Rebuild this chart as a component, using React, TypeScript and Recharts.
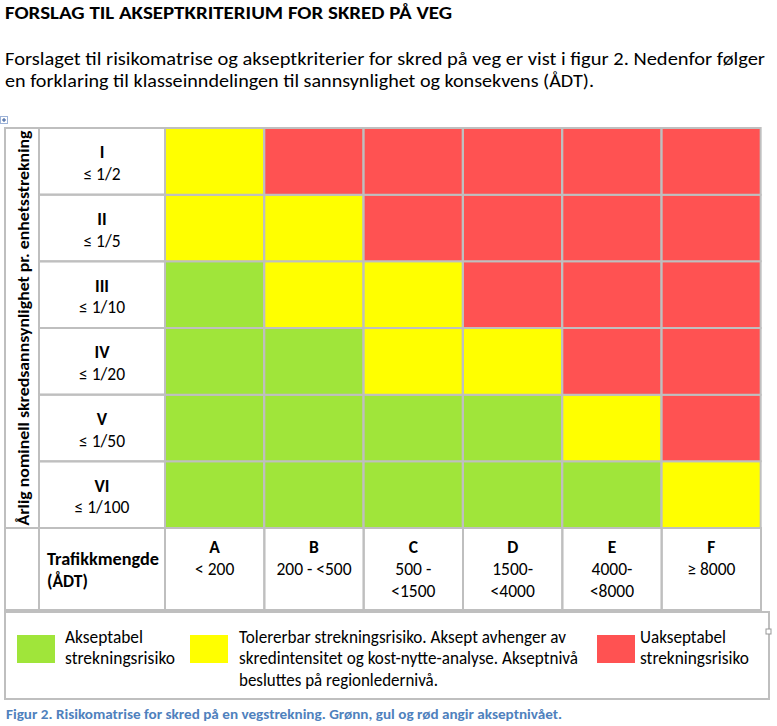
import React from 'react';
import { BarChart, Bar, Cell, XAxis, YAxis } from 'recharts';

// columns = traffic classes (ÅDT), rows = annual nominal probability classes
const trafficClasses = ['A', 'B', 'C', 'D', 'E', 'F'];
const trafficRanges = [['< 200'], ['200 - <500'], ['500 -', '<1500'], ['1500-', '<4000'], ['4000-', '<8000'], ['≥ 8000']];
const probClasses = ['I', 'II', 'III', 'IV', 'V', 'VI'];
const probLimits = ['≤ 1/2', '≤ 1/5', '≤ 1/10', '≤ 1/20', '≤ 1/50', '≤ 1/100'];

// acceptance level per cell, columns A..F (G = akseptabel, Y = tolererbar, R = uakseptabel)
const rowI = ['Y', 'R', 'R', 'R', 'R', 'R'];
const rowII = ['Y', 'Y', 'R', 'R', 'R', 'R'];
const rowIII = ['G', 'Y', 'Y', 'R', 'R', 'R'];
const rowIV = ['G', 'G', 'Y', 'Y', 'R', 'R'];
const rowV = ['G', 'G', 'G', 'G', 'Y', 'R'];
const rowVI = ['G', 'G', 'G', 'G', 'G', 'Y'];
const riskMatrix = [rowI, rowII, rowIII, rowIV, rowV, rowVI];

const levelColors: Record<string, string> = { G: '#A0E53A', Y: '#FFFF00', R: '#FF5252' };

const FONT = 'Carlito, Calibri, Lato, sans-serif';
const GRID = '#BFBFBF';
const W = 777;
const H = 726;
const TOP = 128;
const PLOT_LEFT = 165;
const PLOT_RIGHT = 761;
const PLOT_BOTTOM = 528;
const TABLE_BOTTOM = 610;
const LABEL_COL = 39;
const CELL_FONT = 17.5;

// every cell is one unit tall, stacked per column
const tableData = trafficClasses.map((c) => {
    const d: Record<string, string | number> = { col: c };
    probClasses.forEach((r) => {
        d[r] = 1;
    });
    return d;
});

const rowHeight = (PLOT_BOTTOM - TOP) / probClasses.length;
const colWidth = (PLOT_RIGHT - PLOT_LEFT) / trafficClasses.length;

const RowTick = (props: any) => {
    const { y, payload } = props;
    const i = Math.round(probClasses.length - 0.5 - payload.value);
    const cx = (LABEL_COL + PLOT_LEFT) / 2;
    return (
        <g>
            <rect x={LABEL_COL} y={y - rowHeight / 2} width={PLOT_LEFT - LABEL_COL} height={rowHeight} fill="none" stroke={GRID} strokeWidth={2} />
            <text x={cx} y={y - 3} textAnchor="middle" fontFamily={FONT} fontSize={CELL_FONT} fontWeight="bold" fill="#000">
                {probClasses[i]}
            </text>
            <text x={cx} y={y + 18.5} textAnchor="middle" fontFamily={FONT} fontSize={CELL_FONT} fill="#000">
                {probLimits[i]}
            </text>
        </g>
    );
};

const ColTick = (props: any) => {
    const { x, payload } = props;
    const i = trafficClasses.indexOf(payload.value);
    const lines = trafficRanges[i] || [];
    return (
        <g>
            <rect x={x - colWidth / 2} y={PLOT_BOTTOM} width={colWidth} height={TABLE_BOTTOM - PLOT_BOTTOM} fill="none" stroke={GRID} strokeWidth={2} />
            <text x={x} y={PLOT_BOTTOM + 25} textAnchor="middle" fontFamily={FONT} fontSize={CELL_FONT} fontWeight="bold" fill="#000">
                {payload.value}
            </text>
            {lines.map((l, k) => (
                <text key={k} x={x} y={PLOT_BOTTOM + 47 + k * 22} textAnchor="middle" fontFamily={FONT} fontSize={CELL_FONT} fill="#000">
                    {l}
                </text>
            ))}
        </g>
    );
};

const legendItems = [
    { level: 'G', sx: 17, tx: 65, lines: [['Akseptabel', 78], ['strekningsrisiko', 110]] },
    {
        level: 'Y',
        sx: 190,
        tx: 239,
        lines: [
            ['Tolererbar strekningsrisiko. Aksept avhenger av', 327],
            ['skredintensitet og kost-nytte-analyse. Akseptnivå', 339],
            ['besluttes på regionledernivå.', 199],
        ],
    },
    { level: 'R', sx: 597, tx: 640, lines: [['Uakseptabel', 86], ['strekningsrisiko', 109]] },
];

const Frame = () => (
    <svg width={W} height={H} style={{ position: 'absolute', left: 0, top: 0 }}>
        <text x={5} y={19} fontFamily={FONT} fontSize={18} fontWeight="bold" fill="#000" textLength={447} lengthAdjust="spacingAndGlyphs">
            FORSLAG TIL AKSEPTKRITERIUM  FOR SKRED PÅ VEG
        </text>
        <text x={5} y={65} fontFamily={FONT} fontSize={18} fill="#000" textLength={760} lengthAdjust="spacingAndGlyphs">
            Forslaget til risikomatrise og akseptkriterier for skred på veg er vist i figur 2. Nedenfor følger
        </text>
        <text x={5} y={87} fontFamily={FONT} fontSize={18} fill="#000" textLength={589} lengthAdjust="spacingAndGlyphs">
            en forklaring til klasseinndelingen til sannsynlighet og konsekvens (ÅDT).
        </text>

        {/* table move handle */}
        <rect x={0.5} y={116.5} width={7} height={7} fill="#fff" stroke="#9DB3D8" strokeWidth={1} />
        <path d="M4 118 V122 M2 120 H6" stroke="#2F5597" strokeWidth={1} />

        {/* left label column and header corner */}
        <rect x={5} y={TOP} width={LABEL_COL - 5} height={PLOT_BOTTOM - TOP} fill="none" stroke={GRID} strokeWidth={2} />
        <rect x={5} y={PLOT_BOTTOM} width={LABEL_COL - 5} height={TABLE_BOTTOM - PLOT_BOTTOM} fill="none" stroke={GRID} strokeWidth={2} />
        <rect x={LABEL_COL} y={PLOT_BOTTOM} width={PLOT_LEFT - LABEL_COL} height={TABLE_BOTTOM - PLOT_BOTTOM} fill="none" stroke={GRID} strokeWidth={2} />
        <text
            transform={`translate(29, ${(TOP + PLOT_BOTTOM) / 2}) rotate(-90)`}
            textAnchor="middle"
            fontFamily={FONT}
            fontSize={16.5}
            fontWeight="bold"
            fill="#000"
            textLength={395}
            lengthAdjust="spacingAndGlyphs"
        >
            Årlig nominell skredsannsynlighet pr. enhetsstrekning
        </text>
        <text x={47} y={565} fontFamily={FONT} fontSize={CELL_FONT} fontWeight="bold" fill="#000" textLength={112} lengthAdjust="spacingAndGlyphs">
            Trafikkmengde
        </text>
        <text x={47} y={587} fontFamily={FONT} fontSize={CELL_FONT} fontWeight="bold" fill="#000">
            (ÅDT)
        </text>

        {/* legend */}
        <rect x={5} y={612} width={764} height={87} fill="none" stroke={GRID} strokeWidth={2} />
        <rect x={766} y={629} width={5} height={5} fill="#fff" stroke="#999" strokeWidth={1} />
        {legendItems.map((it) => (
            <g key={it.level}>
                <rect x={it.sx} y={635} width={38} height={28} fill={levelColors[it.level]} />
                {it.lines.map(([t, w], k) => (
                    <text
                        key={k}
                        x={it.tx}
                        y={643 + k * 21.3}
                        fontFamily={FONT}
                        fontSize={17.5}
                        fill="#000"
                        textLength={w as number}
                        lengthAdjust="spacingAndGlyphs"
                    >
                        {t}
                    </text>
                ))}
            </g>
        ))}

        <text x={6} y={719} fontFamily={FONT} fontSize={13} fontWeight="bold" fill="#4F81BD" textLength={556} lengthAdjust="spacingAndGlyphs">
            Figur 2. Risikomatrise  for skred på en vegstrekning. Grønn, gul og rød angir akseptnivået.
        </text>
    </svg>
);

export default function App() {
    const stackOrder = [...probClasses].reverse();
    return (
        <div style={{ position: 'absolute', left: 0, top: 0, width: W, height: H, background: '#fff' }}>
            <Frame />
            <div style={{ position: 'absolute', left: 0, top: 0 }}>
                <BarChart
                    width={W}
                    height={TABLE_BOTTOM + 2}
                    data={tableData}
                    margin={{ top: TOP, right: W - PLOT_RIGHT, bottom: 2, left: 0 }}
                    barCategoryGap={0}
                    barGap={0}
                >
                    <XAxis
                        dataKey="col"
                        type="category"
                        height={TABLE_BOTTOM - PLOT_BOTTOM}
                        axisLine={false}
                        tickLine={false}
                        tickSize={0}
                        tickMargin={0}
                        interval={0}
                        tick={<ColTick />}
                    />
                    <YAxis
                        type="number"
                        domain={[0, probClasses.length]}
                        ticks={probClasses.map((_, i) => probClasses.length - i - 0.5)}
                        width={PLOT_LEFT}
                        axisLine={false}
                        tickLine={false}
                        interval={0}
                        tick={<RowTick />}
                    />
                    {stackOrder.map((r) => {
                        const ri = probClasses.indexOf(r);
                        return (
                            <Bar key={r} dataKey={r} stackId="matrix" isAnimationActive={false} stroke={GRID} strokeWidth={2}>
                                {trafficClasses.map((c, ci) => (
                                    <Cell key={c} fill={levelColors[riskMatrix[ri][ci]]} />
                                ))}
                            </Bar>
                        );
                    })}
                </BarChart>
            </div>
        </div>
    );
}
